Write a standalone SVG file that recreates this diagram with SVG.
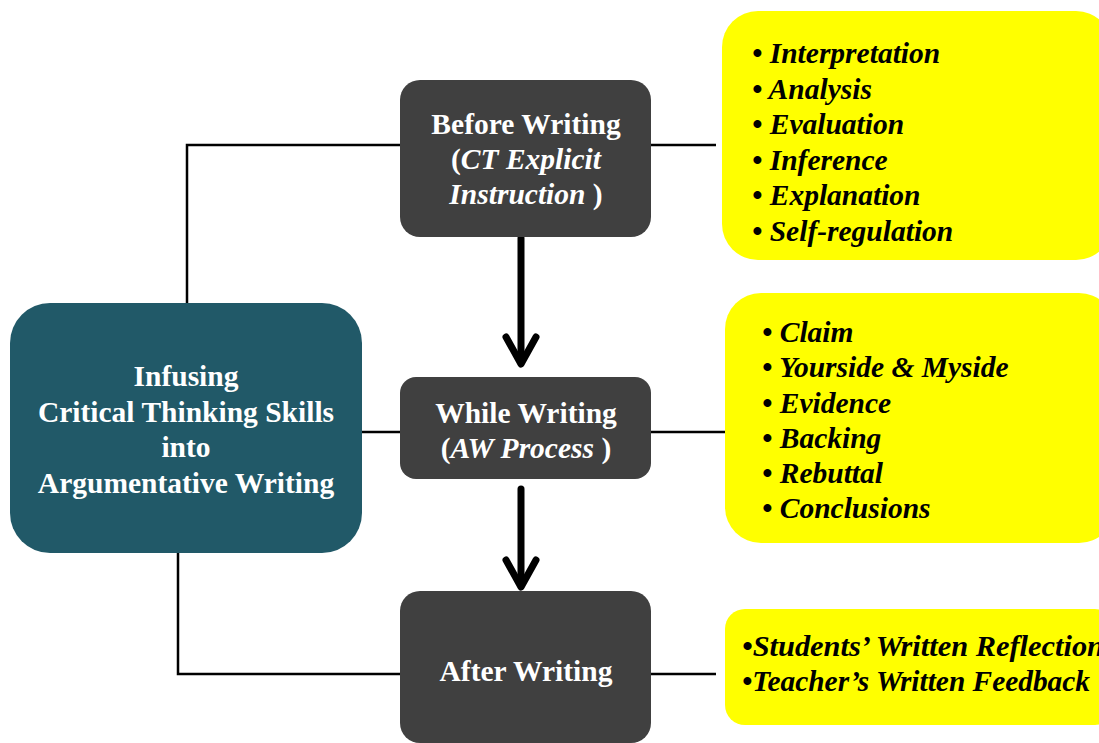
<svg xmlns="http://www.w3.org/2000/svg" width="1099" height="743" viewBox="0 0 1099 743">
<defs>
<style>
.conn{fill:none;stroke:#000;stroke-width:2.5}
.arr{fill:none;stroke:#000;stroke-width:7;stroke-linecap:round;stroke-linejoin:round}
.dark{fill:#404040}
.teal{fill:#215968}
.yel{fill:#FFFF00}
.wt{fill:#fff;font-family:"Liberation Serif","Times New Roman",serif;font-weight:bold;font-size:29.5px;text-anchor:middle}
.bt{fill:#000;font-family:"Liberation Serif","Times New Roman",serif;font-weight:bold;font-style:italic;font-size:29.5px}
</style>
</defs>
<rect width="1099" height="743" fill="#fff"/>
<g id="connectors">
<polyline class="conn" points="187,303 187,145 400,145"/>
<line class="conn" x1="362" y1="432" x2="400" y2="432"/>
<polyline class="conn" points="178,553 178,674 400,674"/>
<line class="conn" x1="650" y1="145" x2="716" y2="145"/>
<line class="conn" x1="650" y1="432" x2="725" y2="432"/>
<line class="conn" x1="650" y1="674" x2="716" y2="674"/>
<line class="arr" x1="521" y1="238" x2="521" y2="362"/>
<polyline class="arr" points="506,337 521,364 536,337"/>
<line class="arr" x1="521" y1="489" x2="521" y2="585"/>
<polyline class="arr" points="506,560 521,587 536,560"/>
</g>
<g id="main">
<rect class="teal" x="10" y="303" width="352" height="250" rx="40"/>
<text class="wt" x="186" y="386">Infusing</text>
<text class="wt" x="186" y="422">Critical Thinking Skills</text>
<text class="wt" x="186" y="457">into</text>
<text class="wt" x="186" y="493">Argumentative Writing</text>
</g>
<g id="before">
<rect class="dark" x="400" y="80" width="251" height="157" rx="20"/>
<text class="wt" x="526" y="134">Before Writing</text>
<text class="wt" x="526" y="169">(<tspan font-style="italic">CT Explicit</tspan></text>
<text class="wt" x="526" y="204"><tspan font-style="italic">Instruction </tspan>)</text>
</g>
<g id="while">
<rect class="dark" x="400" y="377" width="251" height="102" rx="16"/>
<text class="wt" x="526" y="423">While Writing</text>
<text class="wt" x="526" y="458">(<tspan font-style="italic">AW  Process </tspan>)</text>
</g>
<g id="after">
<rect class="dark" x="400" y="591" width="251" height="152" rx="20"/>
<text class="wt" x="526" y="681">After Writing</text>
</g>
<g id="ct-skills">
<rect class="yel" x="722" y="11" width="390" height="249" rx="36"/>
<text class="bt" x="752" y="63">• Interpretation</text>
<text class="bt" x="752" y="99">• Analysis</text>
<text class="bt" x="752" y="134">• Evaluation</text>
<text class="bt" x="752" y="170">• Inference</text>
<text class="bt" x="752" y="205">• Explanation</text>
<text class="bt" x="752" y="241">• Self-regulation</text>
</g>
<g id="aw-elements">
<rect class="yel" x="725" y="293" width="390" height="250" rx="36"/>
<text class="bt" x="762" y="342">• Claim</text>
<text class="bt" x="762" y="377">• Yourside &amp; Myside</text>
<text class="bt" x="762" y="413">• Evidence</text>
<text class="bt" x="762" y="448">• Backing</text>
<text class="bt" x="762" y="483">• Rebuttal</text>
<text class="bt" x="762" y="518">• Conclusions</text>
</g>
<g id="reflection">
<rect class="yel" x="725" y="609" width="390" height="116" rx="20"/>
<text class="bt" x="742" y="656" font-size="27" textLength="362" lengthAdjust="spacingAndGlyphs">•Students’ Written Reflection</text>
<text class="bt" x="742" y="691" font-size="27" textLength="348" lengthAdjust="spacingAndGlyphs">•Teacher’s Written Feedback</text>
</g>
</svg>
